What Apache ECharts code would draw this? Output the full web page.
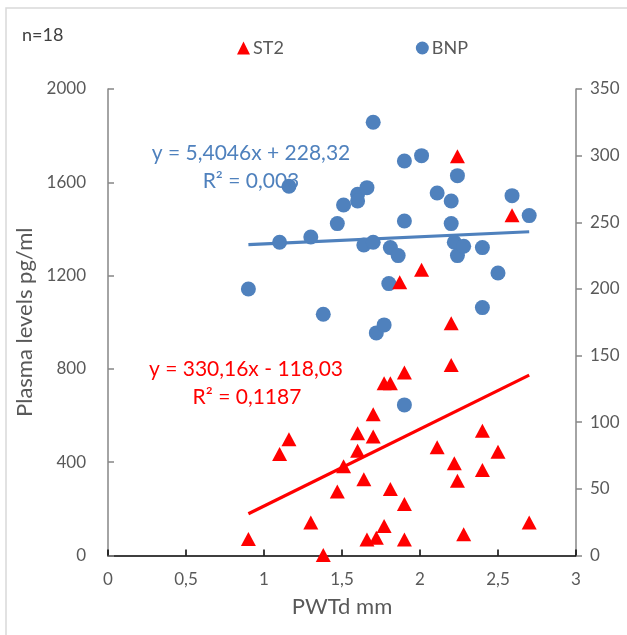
<!DOCTYPE html>
<html><head><meta charset="utf-8">
<script src="https://cdn.jsdelivr.net/npm/echarts@6/dist/echarts.min.js"></script>
<style>html,body{margin:0;padding:0;background:#fff}#c{width:627px;height:635px}</style>
</head><body><div id="c"></div>
<script>
// ---- data ----
const xTicks = [0, 0.5, 1, 1.5, 2, 2.5, 3];
const leftTicks = [0, 400, 800, 1200, 1600, 2000];
const rightTicks = [0, 50, 100, 150, 200, 250, 300, 350];

const st2X = [0.9, 1.1, 1.16, 1.3, 1.38, 1.47, 1.51, 1.6, 1.6, 1.64, 1.66, 1.7, 1.7, 1.72, 1.77, 1.77, 1.81, 1.81, 1.87, 1.9, 1.9, 1.9, 2.01, 2.11, 2.2, 2.2, 2.22, 2.24, 2.24, 2.28, 2.4, 2.4, 2.5, 2.59, 2.7];
const st2Y = [71, 435, 498, 141, 2, 274, 383, 449, 524, 327, 69, 606, 510, 76, 127, 739, 739, 285, 1172, 785, 221, 69, 1225, 464, 996, 817, 395, 1712, 320, 91, 535, 367, 445, 1459, 141];

const bnpX = [0.9, 1.1, 1.16, 1.3, 1.38, 1.47, 1.51, 1.6, 1.6, 1.64, 1.66, 1.7, 1.7, 1.72, 1.77, 1.8, 1.81, 1.86, 1.9, 1.9, 1.9, 2.01, 2.11, 2.2, 2.2, 2.22, 2.24, 2.24, 2.28, 2.4, 2.4, 2.5, 2.59, 2.7];
const bnpY = [200, 235, 277, 239, 181, 249, 263, 271, 266, 233, 276, 325, 235, 167, 173, 204, 231, 225, 296, 251, 113, 300, 272, 266, 249, 235, 285, 225, 232, 231, 186, 212, 270, 255];

const st2Coef = [330.16, -118.03];
const st2R2 = 0.1187;
const bnpCoef = [5.4046, 228.32];
const bnpR2 = 0.003;
const trendRange = [0.9, 2.7];
const nLabel = 'n=18';

// ---- helpers ----
const dec = v => String(v).replace('.', ',');
const eqText = c => 'y = ' + dec(c[0]) + 'x ' + (c[1] < 0 ? '- ' : '+ ') + dec(Math.abs(c[1]));
const trendPts = c => trendRange.map(x => [x, c[0] * x + c[1]]);
const pairs = (xs, ys) => xs.map((x, i) => [x, ys[i]]);

const RED = '#FF0000', BLUE = '#4F81BD', GREY = '#595959';
const FONT = 'Lato, "Open Sans", sans-serif';

const chart = echarts.init(document.getElementById('c'), null, {renderer: 'canvas'});
chart.setOption({
  animation: false,
  backgroundColor: '#fff',
  textStyle: {fontFamily: FONT},
  grid: {left: 108, right: 51, top: 89, bottom: 79.5, containLabel: false, outerBoundsMode: 'none'},
  legend: {
    left: 232, top: 34,
    itemWidth: 13, itemHeight: 13, itemGap: 132,
    data: [{name: 'ST2', icon: 'triangle'}, {name: 'BNP', icon: 'circle'}],
    textStyle: {color: GREY, fontSize: 18, fontFamily: FONT, padding: [0, 0, 0, -2]}
  },
  xAxis: {
    type: 'value', min: xTicks[0], max: xTicks[xTicks.length - 1], interval: xTicks[1] - xTicks[0],
    name: 'PWTd mm', nameLocation: 'middle', nameGap: 40,
    nameTextStyle: {color: GREY, fontSize: 22, fontFamily: FONT},
    axisLine: {show: true, onZero: false, lineStyle: {color: '#000', width: 1.5}},
    axisTick: {show: true, inside: true, length: 6, lineStyle: {color: '#000', width: 1.5}},
    axisLabel: {color: GREY, fontSize: 17, margin: 16, formatter: v => dec(v)},
    splitLine: {show: false}
  },
  yAxis: [{
    type: 'value', position: 'left', min: leftTicks[0], max: leftTicks[leftTicks.length - 1], interval: leftTicks[1] - leftTicks[0],
    name: 'Plasma levels pg/ml', nameLocation: 'middle', nameGap: 64,
    nameTextStyle: {color: GREY, fontSize: 22, fontFamily: FONT},
    axisLine: {show: true, lineStyle: {color: '#868686', width: 1.5}},
    axisTick: {show: true, inside: true, length: 6, lineStyle: {color: '#868686', width: 1.5}},
    axisLabel: {color: GREY, fontSize: 17, margin: 22, formatter: v => String(v)},
    splitLine: {show: false}
  }, {
    type: 'value', position: 'right', min: rightTicks[0], max: rightTicks[rightTicks.length - 1], interval: rightTicks[1] - rightTicks[0],
    axisLine: {show: true, lineStyle: {color: '#868686', width: 1.5}},
    axisTick: {show: true, inside: false, length: 6, lineStyle: {color: '#868686', width: 1.5}},
    axisLabel: {color: GREY, fontSize: 17, margin: 14, formatter: v => String(v)},
    splitLine: {show: false}
  }],
  series: [
    {name: 'BNP trend', type: 'line', yAxisIndex: 1, data: trendPts(bnpCoef), symbol: 'none', silent: true,
     lineStyle: {color: BLUE, width: 3.2}, z: 2},
    {name: 'BNP', type: 'scatter', yAxisIndex: 1, data: pairs(bnpX, bnpY), symbol: 'circle', symbolSize: 15,
     itemStyle: {color: BLUE, opacity: 1}, z: 3},
    {name: 'ST2 trend', type: 'line', yAxisIndex: 0, data: trendPts(st2Coef), symbol: 'none', silent: true,
     lineStyle: {color: RED, width: 3.2}, z: 4},
    {name: 'ST2', type: 'scatter', yAxisIndex: 0, data: pairs(st2X, st2Y), symbol: 'triangle', symbolSize: [15, 14],
     itemStyle: {color: RED, opacity: 1}, z: 5}
  ],
  graphic: [
    {type: 'rect', shape: {x: 6, y: 8, width: 700, height: 700}, style: {fill: 'none', stroke: '#d9d9d9', lineWidth: 1.5}, z: -10, silent: true},
    {type: 'text', x: 22, y: 35, style: {text: nLabel, fontSize: 18, fontFamily: FONT, fill: '#404040', verticalAlign: 'middle'}},
    {type: 'text', x: 251, y: 153, style: {text: eqText(bnpCoef), fontSize: 21, fontFamily: FONT, fill: BLUE, align: 'center', verticalAlign: 'middle'}, z: 10},
    {type: 'text', x: 251, y: 181, style: {text: 'R² = ' + dec(bnpR2), fontSize: 21, fontFamily: FONT, fill: BLUE, align: 'center', verticalAlign: 'middle'}, z: 10},
    {type: 'text', x: 246, y: 369, style: {text: eqText(st2Coef), fontSize: 21, fontFamily: FONT, fill: RED, align: 'center', verticalAlign: 'middle'}, z: 10},
    {type: 'text', x: 247, y: 397, style: {text: 'R² = ' + dec(st2R2), fontSize: 21, fontFamily: FONT, fill: RED, align: 'center', verticalAlign: 'middle'}, z: 10}
  ]
});
</script>
</body></html>
